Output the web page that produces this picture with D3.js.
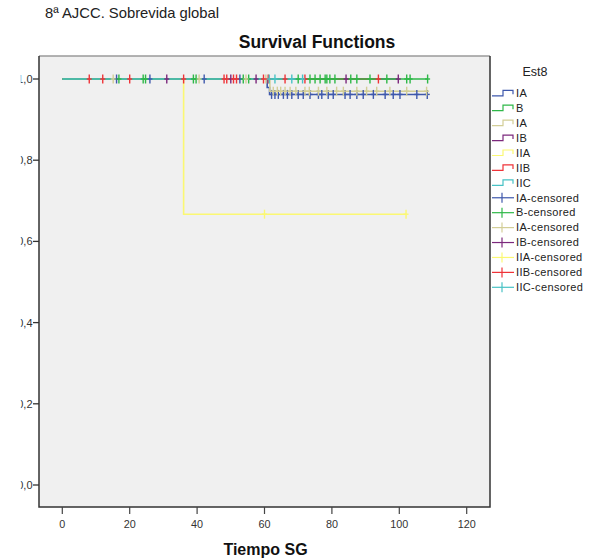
<!DOCTYPE html>
<html>
<head>
<meta charset="utf-8">
<script src="https://cdn.jsdelivr.net/npm/d3@7"></script>
<style>
  body { margin: 0; background: #fff; }
  svg { display: block; font-family: "Liberation Sans", Arial, sans-serif; }
</style>
</head>
<body>
<div id="chart"></div>
<script>
// ---------- DATA ----------
const GROUPS = ["IA", "B", "IA", "IB", "IIA", "IIB", "IIC"];
const COLORS = ["#3e58ac", "#2eb848", "#d3ce97", "#7c287d", "#fbf873", "#ef3338", "#48c2c5"];

// survival steps [time, survival] per group
const STEPS_IA1 = [[0, 1], [60.8, 0.979], [61.5, 0.962]];
const STEPS_B = [[0, 1]];
const STEPS_IA2 = [[0, 1], [61.6, 0.970]];
const STEPS_IB = [[0, 1]];
const STEPS_IIA = [[0, 1], [36, 0.667]];
const STEPS_IIB = [[0, 1]];
const STEPS_IIC = [[0, 1]];

// censored times per group
const CENS_IA1 = [16.1, 26, 42.1, 52.7, 62.1, 63.1, 64.1, 65.6, 66.8, 68.1, 70, 71.5, 73.5, 76, 77, 78.9,
  80.4, 83.9, 85.4, 87.4, 89.3, 92.3, 95.8, 98.2, 100.2, 105.2, 108.3];
const CENS_B = [16.8, 24, 24.7, 38.9, 39.7, 53.7, 55.3, 70, 73.5, 75, 76.5, 78, 78.5, 79.4, 80.9, 85.6,
  87.4, 91.3, 96.3, 102.2, 103.2, 108.4];
const CENS_IA2 = [15.1, 40.6, 54.5, 60.4, 62.6, 63.8, 64.8, 66.1, 67.6, 69.3, 72, 73.3, 76, 78.5, 81.4,
  83.4, 87.4, 90.3, 93.3, 97.2, 102.2, 108.1];
const CENS_IB = [31, 50, 57.5, 84.2, 99.7];
const CENS_IIA = [60, 102];
const CENS_IIB = [8, 12, 20, 36, 48, 48.8, 50.8, 51.7, 59.7, 61.1, 66.1, 72, 93.8];
const CENS_IIC = [61.4, 63.1, 68.1, 71.3];

const X_TICKS = [0, 20, 40, 60, 80, 100, 120];
const Y_TICKS = [0, 0.2, 0.4, 0.6, 0.8, 1.0];

// order the curves are painted in (last on top)
const DRAW_ORDER = [0, 2, 3, 4, 5, 1, 6];

const series = GROUPS.map((name, i) => ({
  name,
  color: COLORS[i],
  steps: [STEPS_IA1, STEPS_B, STEPS_IA2, STEPS_IB, STEPS_IIA, STEPS_IIB, STEPS_IIC][i],
  cens: [CENS_IA1, CENS_B, CENS_IA2, CENS_IB, CENS_IIA, CENS_IIB, CENS_IIC][i]
}));

// ---------- SCAFFOLD ----------
const width = 598, height = 559;
const frame = { left: 39, top: 56, right: 490, bottom: 507 };

const svg = d3.select("#chart").append("svg")
  .attr("width", width)
  .attr("height", height);

const x = d3.scaleLinear().domain([0, 120]).range([62.3, 466.7]);
const y = d3.scaleLinear().domain([0, 1]).range([485, 79]);

// header texts
svg.append("text")
  .attr("x", 45).attr("y", 18)
  .attr("font-size", 14.8)
  .attr("fill", "#222")
  .text("8ª AJCC. Sobrevida global");

svg.append("text")
  .attr("x", 317).attr("y", 48)
  .attr("text-anchor", "middle")
  .attr("font-size", 17.5)
  .attr("font-weight", "bold")
  .attr("fill", "#111")
  .text("Survival Functions");

// plot background
svg.append("rect")
  .attr("x", frame.left).attr("y", frame.top)
  .attr("width", frame.right - frame.left)
  .attr("height", frame.bottom - frame.top)
  .attr("fill", "#f0f0f0");

svg.append("line")
  .attr("x1", frame.left).attr("x2", frame.right)
  .attr("y1", frame.top).attr("y2", frame.top)
  .attr("stroke", "#9a9a9a").attr("stroke-width", 1.5);

svg.append("path")
  .attr("d", `M${frame.left},${frame.top} V${frame.bottom} H${frame.right} V${frame.top}`)
  .attr("fill", "none")
  .attr("stroke", "#333")
  .attr("stroke-width", 1.5);

// ---------- AXES ----------
// the tick labels are cut off on the left in the original picture
svg.append("clipPath").attr("id", "yclip")
  .append("rect").attr("x", 20.8).attr("y", 0).attr("width", 40).attr("height", height);

const yAxis = svg.append("g");
yAxis.selectAll("line")
  .data(Y_TICKS)
  .join("line")
  .attr("x1", 33).attr("x2", frame.left)
  .attr("y1", d => y(d)).attr("y2", d => y(d))
  .attr("stroke", "#333").attr("stroke-width", 1.3);
yAxis.selectAll("text")
  .data(Y_TICKS)
  .join("text")
  .attr("clip-path", "url(#yclip)")
  .attr("x", 32.5)
  .attr("y", d => y(d) + 4)
  .attr("text-anchor", "end")
  .attr("font-size", 11)
  .attr("fill", "#333")
  .text(d => d3.format(".1f")(d).replace(".", ","));

const xAxis = svg.append("g");
xAxis.selectAll("line")
  .data(X_TICKS)
  .join("line")
  .attr("x1", d => x(d)).attr("x2", d => x(d))
  .attr("y1", frame.bottom).attr("y2", frame.bottom + 7)
  .attr("stroke", "#444").attr("stroke-width", 1.2);
xAxis.selectAll("text")
  .data(X_TICKS)
  .join("text")
  .attr("x", d => x(d))
  .attr("y", 527.5)
  .attr("text-anchor", "middle")
  .attr("font-size", 10.8)
  .attr("fill", "#333")
  .text(d => d);

svg.append("text")
  .attr("x", 265.5).attr("y", 555)
  .attr("text-anchor", "middle")
  .attr("font-size", 16)
  .attr("font-weight", "bold")
  .attr("fill", "#111")
  .text("Tiempo SG");

// ---------- CURVES ----------
const plot = svg.append("g");
const line = d3.line()
  .x(d => x(d[0]))
  .y(d => y(d[1]))
  .curve(d3.curveStepAfter);

function survivalAt(steps, t) {
  let s = 1;
  steps.forEach(st => { if (st[0] <= t) s = st[1]; });
  return s;
}

DRAW_ORDER.forEach(i => {
  const s = series[i];
  const end = d3.max(s.cens);
  const pts = s.steps.concat([[end, s.steps[s.steps.length - 1][1]]]);
  plot.append("path")
    .attr("d", line(pts))
    .attr("fill", "none")
    .attr("stroke", s.color)
    .attr("stroke-width", 1.6);
});

series.forEach(s => {
  const g = plot.append("g").attr("stroke", s.color).attr("stroke-width", 1.4);
  s.cens.forEach(t => {
    const cx = x(t), cy = y(survivalAt(s.steps, t));
    g.append("line").attr("x1", cx).attr("x2", cx).attr("y1", cy - 4.5).attr("y2", cy + 4.5);
    g.append("line").attr("x1", cx - 2.5).attr("x2", cx + 2.5).attr("y1", cy).attr("y2", cy);
  });
});

// ---------- LEGEND ----------
const legend = svg.append("g");
legend.append("text")
  .attr("x", 535).attr("y", 76)
  .attr("text-anchor", "middle")
  .attr("font-size", 12.5)
  .attr("fill", "#222")
  .text("Est8");

const legendItems = series.map(s => ({ label: s.name, color: s.color, censored: false }))
  .concat(series.map(s => ({ label: s.name + "-censored", color: s.color, censored: true })));

const ly = d3.scalePoint().domain(d3.range(legendItems.length)).range([93.3, 287.3]);

legendItems.forEach((d, i) => {
  const cy = ly(i);
  if (d.censored) {
    legend.append("line").attr("x1", 492).attr("x2", 514).attr("y1", cy).attr("y2", cy)
      .attr("stroke", d.color).attr("stroke-width", 1.2);
    legend.append("line").attr("x1", 502).attr("x2", 502).attr("y1", cy - 5).attr("y2", cy + 5)
      .attr("stroke", d.color).attr("stroke-width", 1.2);
  } else {
    legend.append("path")
      .attr("d", `M492,${cy + 2.5} H503 V${cy - 3} H513 V${cy + 1}`)
      .attr("fill", "none")
      .attr("stroke", d.color).attr("stroke-width", 1.2);
  }
  legend.append("text")
    .attr("x", 516).attr("y", cy + 3.8)
    .attr("font-size", 11)
    .attr("letter-spacing", 0.35)
    .attr("fill", "#222")
    .text(d.label);
});
</script>
</body>
</html>
